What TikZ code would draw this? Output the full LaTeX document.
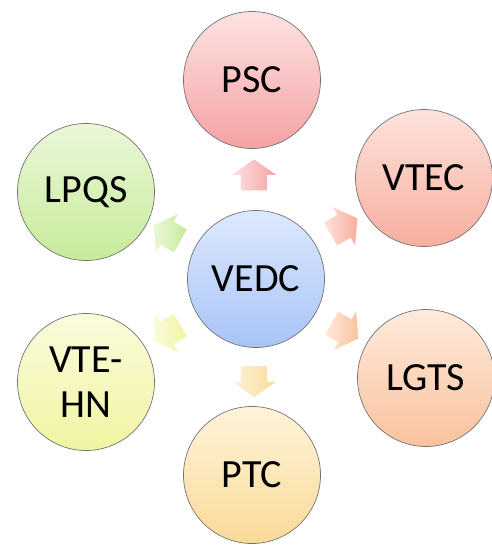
\documentclass[tikz,border=0pt]{standalone}
\usepackage{fontspec}
\setmainfont{Carlito}
\usetikzlibrary{calc,shapes.arrows}

\definecolor{vedcTop}{HTML}{DDE8FD}
\definecolor{vedcBot}{HTML}{A8C4F7}
\definecolor{pscTop}{HTML}{FDE2E2}
\definecolor{pscBot}{HTML}{F5A2A4}
\definecolor{vtecTop}{HTML}{FDE3DC}
\definecolor{vtecBot}{HTML}{F7AE9F}
\definecolor{lgtsTop}{HTML}{FEEADC}
\definecolor{lgtsBot}{HTML}{F9C29E}
\definecolor{ptcTop}{HTML}{FEF3DA}
\definecolor{ptcBot}{HTML}{FADB98}
\definecolor{hnTop}{HTML}{FBFBDC}
\definecolor{hnBot}{HTML}{F0F4A2}
\definecolor{lpqsTop}{HTML}{EBF7D9}
\definecolor{lpqsBot}{HTML}{C6EB9A}

\tikzset{
	bubble/.style={circle, draw=black!55, line width=0.7pt, minimum size=137pt,
		inner sep=0pt, align=center, font=\fontsize{40}{45}\selectfont},
	fatarrow/.style={single arrow, draw=none, inner xsep=0pt, inner ysep=13pt,
		minimum height=31pt, single arrow head extend=9pt, single arrow tip angle=110},
}

\begin{document}
\begin{tikzpicture}[x=1pt,y=-1pt]
		%%%%% START %%%%%
		\useasboundingbox (0,0) rectangle (491,548);
		
		\node[bubble, top color=vedcTop, bottom color=vedcBot] (vedc) at (256,279) {VEDC};
		
		\node[bubble, top color=pscTop, bottom color=pscBot] (psc) at (252,80) {PSC};
		\node[bubble, top color=vtecTop, bottom color=vtecBot] (vtec) at (424,178) {VTEC};
		\node[bubble, top color=lgtsTop, bottom color=lgtsBot] (lgts) at (426,378) {LGTS};
		\node[bubble, top color=ptcTop, bottom color=ptcBot] (ptc) at (252,475) {PTC};
		\node[bubble, top color=hnTop, bottom color=hnBot] (vtehn) at (86,382) {VTE-\\HN};
		\node[bubble, top color=lpqsTop, bottom color=lpqsBot] (lpqs) at (86,192) {LPQS};
		
		% arrows from the centre outwards
		\node[fatarrow, rotate=90, left color=pscTop, right color=pscBot] (toPsc) at ($(vedc)!0.5!(psc)$) {};
		\node[fatarrow, rotate=30, left color=vtecTop, right color=vtecBot] (toVtec) at ($(vedc)!0.5!(vtec)$) {};
		\node[fatarrow, rotate=-30, left color=lgtsTop, right color=lgtsBot] (toLgts) at ($(vedc)!0.5!(lgts)$) {};
		\node[fatarrow, rotate=-90, left color=ptcTop, right color=ptcBot] (toPtc) at ($(vedc)!0.5!(ptc)$) {};
		\node[fatarrow, rotate=-150, left color=hnTop, right color=hnBot] (toVtehn) at ($(vedc)!0.5!(vtehn)$) {};
		\node[fatarrow, rotate=150, left color=lpqsTop, right color=lpqsBot] (toLpqs) at ($(vedc)!0.5!(lpqs)$) {};
		%%%%% END %%%%%
\end{tikzpicture}
\end{document}
